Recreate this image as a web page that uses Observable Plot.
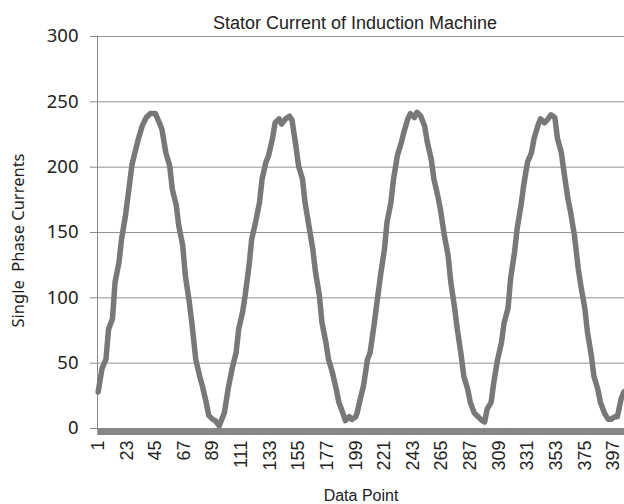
<!DOCTYPE html>
<html>
<head>
<meta charset="utf-8">
<script src="https://cdn.jsdelivr.net/npm/d3@7"></script>
<script src="https://cdn.jsdelivr.net/npm/@observablehq/plot@0.6"></script>
<style>
  html, body { margin: 0; padding: 0; background: #fff; }
  #chart svg { display: block; }
</style>
</head>
<body>
<div id="chart"></div>
<script>
// Stator current samples (data point index, single phase current)
const dataPoint = [
  1, 4, 7, 9, 12, 14, 17, 19, 22, 25, 27, 30, 32, 35, 38, 41, 45, 48, 50, 53,
  56, 58, 61, 63, 66, 68, 71, 73, 76, 79, 81, 84, 86, 89, 91, 94, 98, 101, 104, 107,
  109, 112, 114, 117, 119, 122, 125, 127, 130, 132, 135, 137, 140, 142, 145, 148, 150, 153, 155, 158,
  160, 163, 166, 168, 171, 173, 176, 178, 181, 184, 186, 189, 191, 194, 196, 199, 200, 203, 205, 208,
  210, 213, 216, 218, 221, 223, 226, 228, 231, 234, 236, 239, 241, 244, 246, 249, 252, 254, 257, 259,
  262, 264, 267, 270, 272, 275, 277, 280, 282, 285, 287, 290, 293, 296, 298, 300, 303, 305, 308, 311,
  313, 316, 318, 321, 323, 326, 328, 331, 334, 336, 339, 341, 344, 346, 349, 352, 354, 357, 359, 362,
  364, 367, 370, 372, 375, 377, 380, 382, 385, 387, 390, 393, 395, 398, 400, 403, 405
];
const current = [
  28, 46, 53, 76, 84, 112, 127, 145, 163, 186, 202, 214, 222, 232, 238, 241, 241, 234, 229, 211,
  201, 183, 171, 155, 140, 117, 97, 81, 53, 40, 33, 20, 10, 7, 6, 2, 12, 31, 46, 58,
  76, 89, 102, 125, 145, 158, 173, 191, 204, 209, 222, 234, 237, 233, 237, 239, 236, 216, 201, 191,
  173, 155, 137, 120, 102, 81, 66, 53, 43, 30, 20, 12, 6, 9, 7, 9, 12, 25, 33, 53,
  58, 79, 102, 117, 137, 158, 173, 191, 209, 219, 227, 237, 241, 238, 242, 239, 231, 219, 206, 191,
  178, 168, 148, 132, 112, 92, 76, 56, 40, 30, 20, 12, 9, 6, 5, 15, 20, 35, 53, 66,
  81, 92, 115, 135, 153, 171, 186, 204, 211, 222, 232, 237, 234, 236, 240, 238, 222, 211, 196, 176,
  166, 148, 122, 109, 92, 74, 56, 40, 30, 20, 12, 7, 7, 9, 9, 23, 28
];
const pointCount = 405;
const yTicks = [0, 50, 100, 150, 200, 250, 300];
const xTickLabels = [1, 23, 45, 67, 89, 111, 133, 155, 177, 199, 221, 243, 265, 287, 309, 331, 353, 375, 397];

const title = "Stator Current of Induction Machine";
const yTitle = "Single  Phase Currents";
const xTitle = "Data Point";

const series = dataPoint.map((p, k) => ({point: p, current: current[k]}));
const categoryTicks = d3.range(1, pointCount + 1);

const axisGray = "#8a8a8a";
const lineGray = "#787878";

const chart = Plot.plot({
  width: 624,
  height: 504,
  marginLeft: 97,
  marginRight: 0,
  marginTop: 36,
  marginBottom: 76,
  style: {background: "#fff", overflow: "visible"},
  x: {domain: [0.5, pointCount + 0.5]},
  y: {domain: [0, 300]},
  marks: [
    // horizontal gridlines with short outward ticks
    Plot.ruleY(yTicks.filter(d => d > 0), {x1: 0.5, x2: pointCount + 0.5, stroke: "#929292", strokeWidth: 1}),
    Plot.axisY({
      ticks: yTicks, tickSize: 7, tickPadding: 12, stroke: axisGray,
      fontSize: 18.5, fontFamily: "'Noto Sans', Lato, sans-serif", fill: "#222", label: null
    }),
    // category tick band along the x axis
    Plot.axisX({
      ticks: categoryTicks, tickSize: 7, text: null, stroke: "#858585", strokeWidth: 1.8, label: null
    }),
    Plot.axisX({
      ticks: xTickLabels, tickSize: 0, tickPadding: 12, tickRotate: -90,
      fontSize: 18, fontFamily: "'Liberation Sans', Arial, sans-serif", fill: "#222", label: null
    }),
    Plot.ruleX([0.5], {y1: 0, y2: 300, stroke: axisGray}),
    Plot.ruleY([0], {x1: 0.5, x2: pointCount + 0.5, stroke: axisGray}),
    Plot.line(series, {
      x: "point", y: "current", stroke: lineGray, strokeWidth: 5.5,
      strokeLinejoin: "round", strokeLinecap: "round"
    }),
    Plot.text([title], {
      frameAnchor: "top", dx: -6, dy: -20, fontSize: 18,
      fontFamily: "'Liberation Sans Narrow', 'Liberation Sans', Arial, sans-serif", fill: "#222"
    }),
    Plot.text([yTitle], {
      frameAnchor: "left", textAnchor: "middle", dx: -79, dy: 8, rotate: -90, fontSize: 16.5,
      fontFamily: "'Noto Sans', Lato, sans-serif", fill: "#222"
    }),
    Plot.text([xTitle], {
      frameAnchor: "bottom", dy: 72, fontSize: 16,
      fontFamily: "'Liberation Sans', Arial, sans-serif", fill: "#222"
    })
  ]
});

chart.querySelectorAll("text").forEach(t => t.style.whiteSpace = "pre");
document.getElementById("chart").appendChild(chart);
</script>
</body>
</html>
